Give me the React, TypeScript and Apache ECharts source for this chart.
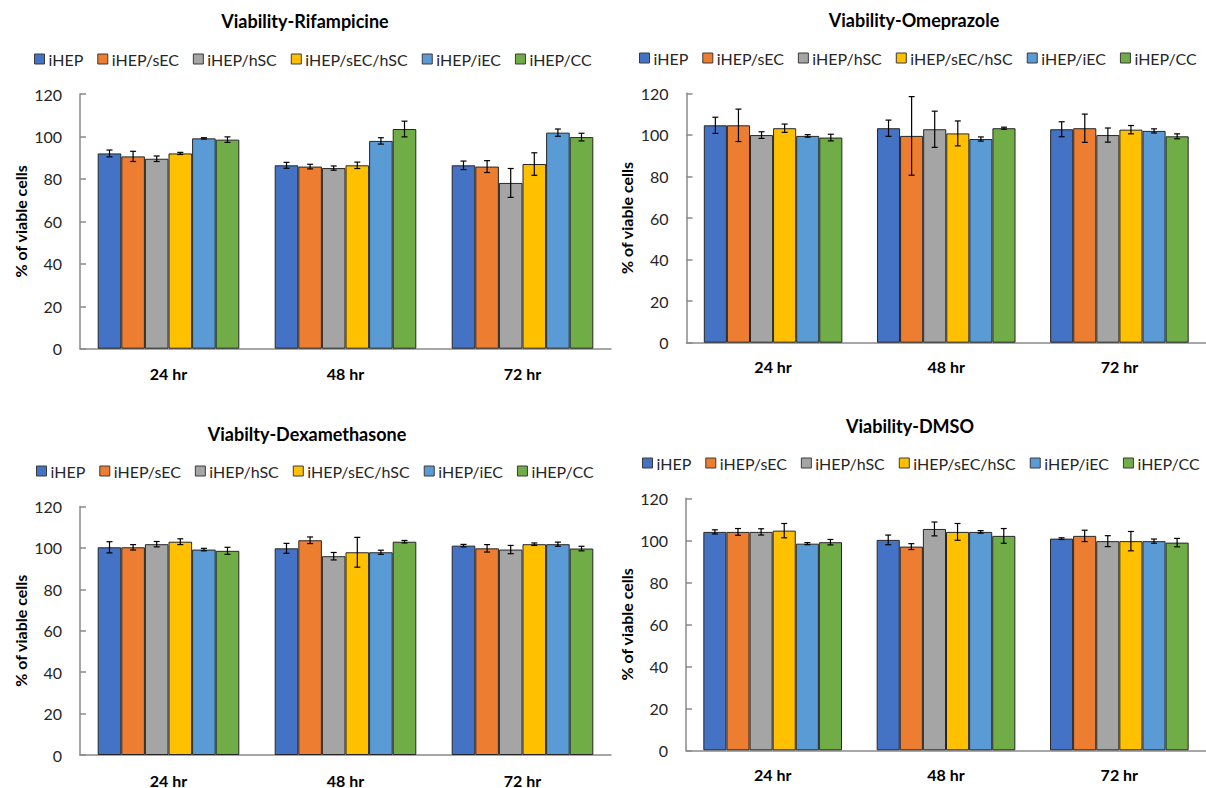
import React, { useEffect, useRef } from 'react';
import * as echarts from 'echarts';

// ---------- DATA ----------
const timePoints = ['24 hr', '48 hr', '72 hr'];
const cultureGroups = ['iHEP', 'iHEP/sEC', 'iHEP/hSC', 'iHEP/sEC/hSC', 'iHEP/iEC', 'iHEP/CC'];
const yTickValues = [0, 20, 40, 60, 80, 100, 120];
const panelTitles = ['Viability-Rifampicine', 'Viability-Omeprazole', 'Viabilty-Dexamethasone', 'Viability-DMSO'];

// each row = one culture group, values for 24 / 48 / 72 hr
const rifampicineMean = [
  [92.0, 86.4, 86.4],
  [90.6, 85.8, 85.8],
  [89.5, 85.1, 78.1],
  [92.0, 86.4, 87.0],
  [99.1, 97.9, 101.8],
  [98.5, 103.5, 99.7],
];
const rifampicineErr = [
  [1.6, 1.4, 2.0],
  [2.4, 1.1, 2.8],
  [1.3, 1.0, 6.8],
  [0.5, 1.5, 5.3],
  [0.3, 1.5, 1.7],
  [1.3, 3.7, 1.8],
];
const omeprazoleMean = [
  [104.6, 103.2, 102.7],
  [104.6, 99.5, 103.2],
  [99.9, 102.7, 99.9],
  [103.2, 100.7, 102.5],
  [99.5, 98.0, 101.9],
  [98.7, 103.2, 99.3],
];
const omeprazoleErr = [
  [3.9, 3.9, 3.6],
  [7.8, 18.9, 6.8],
  [1.6, 8.7, 3.4],
  [2.0, 6.0, 2.0],
  [0.6, 1.0, 1.0],
  [1.6, 0.5, 1.2],
];
const dexamethasoneMean = [
  [100.3, 99.8, 101.1],
  [100.3, 103.7, 99.8],
  [101.8, 96.0, 99.2],
  [103.0, 97.9, 101.8],
  [99.2, 97.9, 101.8],
  [98.6, 103.0, 99.7],
];
const dexamethasoneErr = [
  [2.7, 2.4, 0.6],
  [1.3, 1.6, 1.8],
  [1.3, 1.8, 2.0],
  [1.4, 7.2, 0.6],
  [0.6, 1.0, 1.0],
  [1.7, 0.6, 1.1],
];
const dmsoMean = [
  [104.0, 100.2, 100.8],
  [104.0, 97.0, 102.1],
  [104.0, 105.4, 99.6],
  [104.6, 104.0, 99.6],
  [98.4, 104.0, 99.6],
  [99.1, 102.1, 98.9],
];
const dmsoErr = [
  [1.0, 2.3, 0.4],
  [1.6, 1.4, 2.7],
  [1.5, 3.3, 2.6],
  [3.4, 4.0, 4.6],
  [0.5, 0.6, 1.0],
  [1.3, 3.5, 2.0],
];

// ---------- STYLE / LAYOUT ----------
const groupColors = ['#4472C4', '#ED7D31', '#A5A5A5', '#FFC000', '#5B9BD5', '#70AD47'];
const FONT = 'Lato';
const CAT_GAP = 0.2;

const panelMeans = [rifampicineMean, omeprazoleMean, dexamethasoneMean, dmsoMean];
const panelErrs = [rifampicineErr, omeprazoleErr, dexamethasoneErr, dmsoErr];

const layouts = [
  { grid: { left: 80, top: 94, width: 531, height: 254.7 }, titleX: 305, titleTop: 12, legendLeft: 34, legendTop: 51, labelMargin: 17 },
  { grid: { left: 686.5, top: 93.3, width: 528, height: 249.4 }, titleX: 914, titleTop: 11, legendLeft: 639, legendTop: 50, labelMargin: 16 },
  { grid: { left: 80, top: 506.5, width: 531, height: 249.2 }, titleX: 307, titleTop: 425, legendLeft: 36, legendTop: 463, labelMargin: 17 },
  { grid: { left: 686, top: 498.3, width: 528, height: 252 }, titleX: 910, titleTop: 417, legendLeft: 642, legendTop: 455, labelMargin: 16 },
];

function buildOption() {
  const grid: any[] = [];
  const xAxis: any[] = [];
  const yAxis: any[] = [];
  const title: any[] = [];
  const legend: any[] = [];
  const series: any[] = [];

  layouts.forEach((L, p) => {
    grid.push({ ...L.grid, containLabel: false });
    title.push({
      text: panelTitles[p],
      left: L.titleX,
      top: L.titleTop,
      padding: 0,
      textAlign: 'center',
      textStyle: { fontFamily: FONT, fontSize: 18, fontWeight: 'bold', color: '#000' },
    });
    legend.push({
      data: cultureGroups,
      left: L.legendLeft,
      top: L.legendTop,
      padding: 0,
      itemWidth: 10,
      itemHeight: 10,
      itemGap: 14,
      icon: 'rect',
      itemStyle: { borderColor: '#3a3a3a', borderWidth: 1 },
      textStyle: { fontFamily: FONT, fontSize: 16, color: '#262626', padding: [0, 0, 0, -1] },
      selectedMode: false,
    });
    xAxis.push({
      type: 'category',
      gridIndex: p,
      data: timePoints,
      axisLine: { show: true, lineStyle: { color: '#8a8a8a', width: 1.5 } },
      axisTick: { show: false },
      axisLabel: { fontFamily: FONT, fontSize: 16, fontWeight: 'bold', color: '#000', margin: L.labelMargin },
      splitLine: { show: false },
    });
    yAxis.push({
      type: 'value',
      gridIndex: p,
      min: 0,
      max: 120,
      interval: 20,
      name: '% of viable cells',
      nameLocation: 'middle',
      nameGap: 52,
      nameRotate: 90,
      nameTextStyle: { fontFamily: FONT, fontSize: 16, fontWeight: 'bold', color: '#000' },
      axisLine: { show: true, lineStyle: { color: '#8a8a8a', width: 1.5 } },
      axisTick: { show: true, inside: true, length: 6, lineStyle: { color: '#8a8a8a', width: 1.5 } },
      axisLabel: {
        fontFamily: FONT,
        fontSize: 16,
        color: '#262626',
        margin: 18,
        formatter: (v: number) => (yTickValues.includes(v) ? String(v) : ''),
      },
      splitLine: { show: false },
    });

    cultureGroups.forEach((g, gi) => {
      series.push({
        name: g,
        type: 'bar',
        xAxisIndex: p,
        yAxisIndex: p,
        barGap: '0%',
        barCategoryGap: `${CAT_GAP * 100}%`,
        data: panelMeans[p][gi],
        itemStyle: { color: groupColors[gi], borderColor: '#262626', borderWidth: 1 },
        emphasis: { disabled: true },
        z: 2,
      });
    });

    cultureGroups.forEach((g, gi) => {
      series.push({
        name: `err-${p}-${gi}`,
        type: 'custom',
        xAxisIndex: p,
        yAxisIndex: p,
        z: 5,
        silent: true,
        encode: { x: 0, y: 1 },
        data: timePoints.map((_, ti) => [ti, panelMeans[p][gi][ti], panelErrs[p][gi][ti]]),
        renderItem: (params: any, api: any) => {
          const ci = api.value(0);
          const m = api.value(1);
          const e = api.value(2);
          const c = api.coord([ci, m]);
          const band = api.size([1, 0])[0];
          const groupW = band * (1 - CAT_GAP);
          const bw = groupW / cultureGroups.length;
          const x = c[0] - groupW / 2 + bw * (gi + 0.5);
          const yTop = api.coord([ci, m + e])[1];
          const yBot = api.coord([ci, m - e])[1];
          const cap = 3;
          const st = { stroke: '#000', lineWidth: 1.2 };
          return {
            type: 'group',
            children: [
              { type: 'line', shape: { x1: x, y1: yTop, x2: x, y2: yBot }, style: st },
              { type: 'line', shape: { x1: x - cap, y1: yTop, x2: x + cap, y2: yTop }, style: st },
              { type: 'line', shape: { x1: x - cap, y1: yBot, x2: x + cap, y2: yBot }, style: st },
            ],
          };
        },
      });
    });
  });

  return {
    animation: false,
    backgroundColor: '#ffffff',
    color: groupColors,
    title,
    legend,
    grid,
    xAxis,
    yAxis,
    series,
  };
}

export default function App() {
  const ref = useRef<HTMLDivElement>(null);
  useEffect(() => {
    if (!ref.current) return;
    const chart = echarts.init(ref.current, undefined, { renderer: 'svg' });
    chart.setOption(buildOption() as any);
    return () => chart.dispose();
  }, []);
  return (
    <div
      ref={ref}
      style={{ position: 'absolute', left: 0, top: 0, width: 1206, height: 788, background: '#fff' }}
    />
  );
}
